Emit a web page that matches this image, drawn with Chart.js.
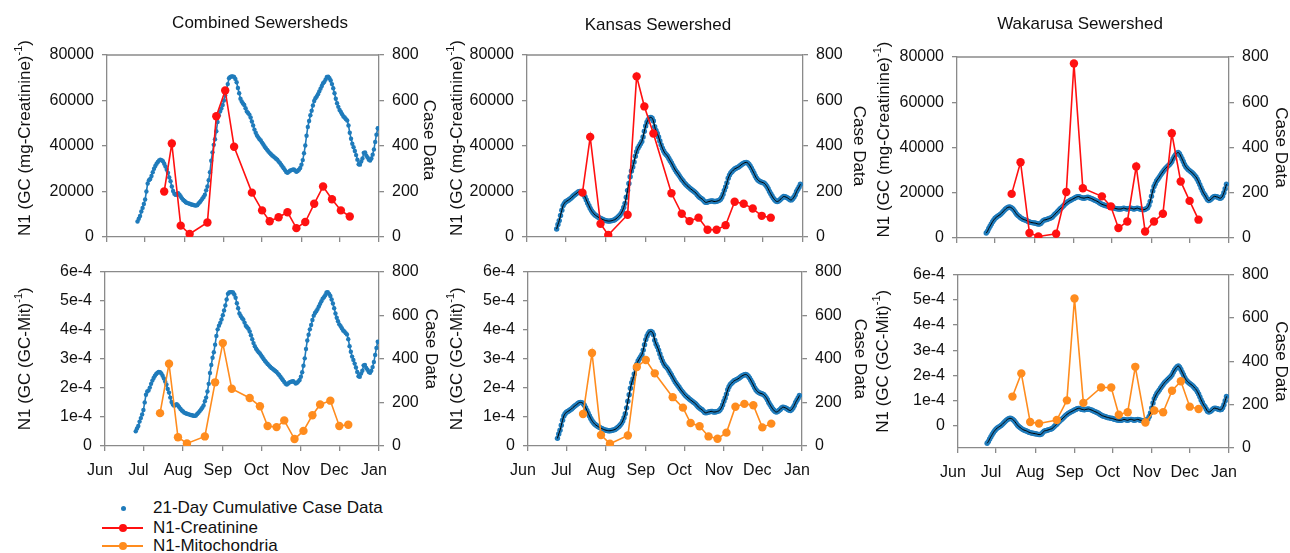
<!DOCTYPE html>
<html>
<head>
<meta charset="utf-8">
<script src="https://cdn.jsdelivr.net/npm/chart.js@4.4.1/dist/chart.umd.min.js"></script>
<style>
  body { margin: 0; background: #fff; width: 1290px; height: 553px; overflow: hidden; position: relative; font-family: "Liberation Sans", Arial, sans-serif; }
  canvas { position: absolute; }
  .lg { position: absolute; font-size: 17px; color: #111; line-height: 17px; white-space: nowrap; }
  .ln { position: absolute; height: 2px; }
  .dt { position: absolute; border-radius: 50%; }
</style>
</head>
<body>

<div class="dt" style="left:121px;top:506px;width:5px;height:5px;background:#1f7bbb"></div>
<div class="lg" style="left:153px;top:499px">21-Day Cumulative Case Data</div>
<div class="ln" style="left:102px;top:527px;width:41px;background:#ff1010"></div>
<div class="dt" style="left:119px;top:524px;width:8px;height:8px;background:#ff1010"></div>
<div class="lg" style="left:153px;top:519px">N1-Creatinine</div>
<div class="ln" style="left:102px;top:545px;width:41px;background:#ff8c1e"></div>
<div class="dt" style="left:119px;top:542px;width:8px;height:8px;background:#ff8c1e"></div>
<div class="lg" style="left:153px;top:537px">N1-Mitochondria</div>

<script>
// dias contados desde 1 de junho (0 = Jun 1, 214 = Jan 1)
const monthDays = [0, 30, 61, 92, 122, 153, 183, 214];
const monthLabels = ['Jun', 'Jul', 'Aug', 'Sep', 'Oct', 'Nov', 'Dec', 'Jan'];

// casos acumulados 21 dias (eixo direito), um valor por dia
const combinedStart = 24;
const combinedCases = [68,80,92,112,128,145,165,200,235,250, 255,268,285,300,312,322,330,336,340,338,
  333,322,310,296,282,262,245,222,202,190, 185,188,192,186,178,170,163,158,153,150,
  148,146,144,142,141,139,138,140,147,153, 160,168,176,186,205,222,250,285,335,372,
  405,430,465,505,535,552,565,580,600,622, 645,672,698,704,706,706,704,695,680,655,
  632,608,596,587,580,566,552,545,538,525, 508,490,472,458,446,438,430,424,415,407,
  398,390,383,376,370,364,358,354,349,344, 340,332,326,318,310,302,294,286,282,287,
  291,294,296,297,292,287,290,296,303,318, 338,368,402,445,484,510,535,555,578,598,
  610,618,628,640,652,664,676,682,692,704, 705,698,688,672,654,632,608,588,572,558,
  550,540,530,525,518,512,490,458,432,410, 395,378,360,340,320,318,332,345,370,372,
  358,350,340,336,345,362,385,418,450,478];

const kansasStart = 23;
const kansasCases = [35,55,72,95,118,138,148,155,158,162, 166,170,176,181,186,190,195,199,200,199,
  195,187,176,163,150,138,126,116,108,101, 96,92,88,85,82,79,76,74,72,71,
  70,70,71,72,74,76,80,85,90,96, 104,115,130,148,175,205,235,265,290,308,
  330,355,375,390,400,410,420,440,465,488, 505,516,524,526,522,510,485,468,455,440,
  422,405,390,378,368,362,355,345,335,326, 315,304,294,286,278,270,261,253,246,238,
  232,226,221,216,211,207,202,198,193,186, 179,174,170,166,160,154,152,154,156,157,
  159,158,156,156,157,159,161,166,175,188, 205,220,238,258,272,282,288,294,299,302,
  305,308,312,317,321,324,327,328,326,320, 312,302,291,280,268,258,251,246,243,241,
  239,236,230,222,212,200,190,180,171,164, 158,156,158,163,168,174,178,177,175,172,
  168,164,163,168,176,186,200,210,220,232];

const wakarusaStart = 23;
const wakarusaCases = [22,30,42,52,62,72,80,87,92,96, 100,104,109,115,121,127,132,135,137,136,
  133,128,121,113,105,99,95,90,86,83, 81,79,76,73,71,69,68,67,66,65,
  63,62,62,65,72,78,80,81,83,85, 87,89,93,99,105,110,116,122,128,133,
  138,144,150,155,159,163,166,169,172,175, 178,181,183,183,180,178,177,176,178,179,
  180,178,176,174,171,168,166,163,160,156, 152,149,147,145,143,141,140,138,137,136,
  134,132,130,129,128,128,128,130,132,131, 129,128,130,132,132,130,128,129,131,132,
  130,128,127,126,125,127,130,134,145,162, 185,208,228,240,252,260,268,277,285,293,
  301,307,313,319,324,330,338,350,360,368, 375,378,373,362,350,338,325,315,308,302,
  298,293,289,283,276,270,260,249,236,222, 210,198,190,180,170,166,168,172,178,183,
  184,182,181,178,176,178,186,200,218,238];

// N1-Creatinina (linha superior, eixo esquerdo)
const combinedCreatDays = [45,51,58,65,79,86,93,100,114,122,128,135,142,149,156,163,170,177,184,191];
const combinedCreat = [20000,41100,5000,1300,6400,53100,64400,39700,19500,11700,6900,8700,10900,3900,6600,14600,22200,16600,11700,9000];
const kansasCreatDays = [43,49,57,63,78,85,91,98,112,120,126,133,140,147,154,161,168,175,182,189];
const kansasCreat = [19500,44000,5800,900,9800,70600,57400,45500,19200,10200,7000,8500,3200,3200,5200,15500,14600,12500,9300,8500];
const wakarusaCreatDays = [43,50,57,64,78,86,92,99,114,121,127,134,141,148,155,162,169,176,183,190];
const wakarusaCreat = [19500,33500,2200,700,1900,20300,77100,22000,18400,14000,4400,7300,31600,2900,7300,10700,46300,25000,16400,8100];

// N1-Mitocondria (linha inferior, eixo esquerdo)
const combinedMitDays = [43,50,57,64,78,86,92,99,113,121,127,134,140,148,155,162,168,176,183,190];
const combinedMit = [1.13e-4,2.83e-4,0.30e-4,0.09e-4,0.33e-4,2.19e-4,3.54e-4,1.97e-4,1.65e-4,1.37e-4,0.69e-4,0.65e-4,0.88e-4,0.24e-4,0.52e-4,1.06e-4,1.43e-4,1.56e-4,0.69e-4,0.73e-4];
const kansasMitDays = [43,50,57,64,78,85,92,99,113,121,127,134,141,148,155,162,169,176,183,190];
const kansasMit = [1.10e-4,3.20e-4,0.38e-4,0.08e-4,0.36e-4,2.72e-4,2.96e-4,2.50e-4,1.68e-4,1.32e-4,0.79e-4,0.68e-4,0.33e-4,0.25e-4,0.46e-4,1.35e-4,1.45e-4,1.40e-4,0.64e-4,0.77e-4];
const wakarusaMitDays = [43,50,57,64,78,86,92,99,113,121,127,134,140,148,155,162,169,176,183,190];
const wakarusaMit = [1.16e-4,2.08e-4,0.15e-4,0.09e-4,0.23e-4,1.01e-4,5.05e-4,0.91e-4,1.52e-4,1.52e-4,0.44e-4,0.54e-4,2.34e-4,0.13e-4,0.61e-4,0.54e-4,1.39e-4,1.77e-4,0.76e-4,0.67e-4];

const creatTicks = [0, 20000, 40000, 60000, 80000];
const mitTicks = [0, 1e-4, 2e-4, 3e-4, 4e-4, 5e-4, 6e-4];
const caseTicks = [0, 200, 400, 600, 800];

const FONT = '"Liberation Sans", Arial, sans-serif';
const AXIS = '#8a8a8a';
const TEXT = '#111';
const BLUE = '#1f7bbb';
const RED = '#ff1010';
const ORANGE = '#ff8c1e';
const AL = 100, AR = 70, AB = 40;

function pontos(dias, valores) {
  return valores.map((v, i) => ({x: dias[i], y: v}));
}
function pontosCasos(inicio, valores) {
  return valores.map((v, i) => ({x: inicio + i, y: v}));
}

const decoracao = {
  id: 'deco',
  afterDraw(chart) {
    const o = chart.options.plugins.deco;
    const a = chart.chartArea;
    const ctx = chart.ctx;
    ctx.save();
    ctx.strokeStyle = AXIS;
    ctx.lineWidth = 1.3;
    ctx.beginPath();
    ctx.moveTo(a.left, a.top);
    ctx.lineTo(a.right, a.top);
    ctx.stroke();
    ctx.fillStyle = TEXT;
    const big = '17px ' + FONT, small = '11px ' + FONT;
    if (o.title) {
      ctx.font = big;
      ctx.textAlign = 'center';
      ctx.textBaseline = 'middle';
      ctx.fillText(o.title, a.left + o.titleDx, a.top - o.titleDy);
    }
    const cy = (a.top + a.bottom) / 2;
    // titulo esquerdo com expoente
    ctx.save();
    ctx.translate(a.left - o.leftDx, cy + o.leftDy);
    ctx.rotate(-Math.PI / 2);
    ctx.font = big;
    const w1 = ctx.measureText(o.leftTitle).width;
    const w3 = ctx.measureText(')').width;
    ctx.font = small;
    const w2 = ctx.measureText('-1').width;
    let x = -(w1 + w2 + w3) / 2;
    ctx.textAlign = 'left';
    ctx.textBaseline = 'middle';
    ctx.font = big;
    ctx.fillText(o.leftTitle, x, 0);
    x += w1;
    ctx.font = small;
    ctx.fillText('-1', x, -6);
    x += w2;
    ctx.font = big;
    ctx.fillText(')', x, 0);
    ctx.restore();
    // titulo direito
    ctx.save();
    ctx.translate(a.right + o.rightDx, cy + o.rightDy);
    ctx.rotate(Math.PI / 2);
    ctx.font = big;
    ctx.textAlign = 'center';
    ctx.textBaseline = 'middle';
    ctx.fillText('Case Data', 0, 0);
    ctx.restore();
    ctx.restore();
  }
};

function eixoBase() {
  return {
    grid: {drawOnChartArea: false, drawTicks: true, tickLength: 5, color: AXIS, lineWidth: 1.3},
    border: {color: AXIS, width: 1.3}
  };
}

function painel(p) {
  const cv = document.createElement('canvas');
  const w = p.R - p.L + AL + AR;
  const h = p.B - p.T + p.pT + AB;
  cv.width = w;
  cv.height = h;
  cv.style.left = (p.L - AL) + 'px';
  cv.style.top = (p.T - p.pT) + 'px';
  cv.style.width = w + 'px';
  cv.style.height = h + 'px';
  document.body.appendChild(cv);

  const datasets = [{
    data: pontos(p.markDays, p.markVals),
    borderColor: p.markColor,
    backgroundColor: p.markColor,
    borderWidth: 1.6,
    pointRadius: 4.2,
    pointBorderWidth: 0,
    yAxisID: 'y'
  }];
  const casos = pontosCasos(p.caseStart, p.cases);
  if (p.smooth) {
    datasets.push({
      data: casos,
      borderColor: '#000',
      borderWidth: 1,
      pointRadius: 0,
      tension: 0.4,
      yAxisID: 'y1'
    });
  }
  datasets.push({
    data: casos,
    borderColor: BLUE,
    backgroundColor: BLUE,
    borderWidth: 1.6,
    pointRadius: p.smooth ? 2.7 : 2.2,
    pointBorderWidth: 0,
    yAxisID: 'y1'
  });

  const tickFont = {family: FONT, size: 16};

  new Chart(cv, {
    type: 'line',
    data: {datasets: datasets},
    options: {
      responsive: false,
      animation: false,
      layout: {padding: {top: p.pT, left: 0, right: 0, bottom: 0}},
      plugins: {
        legend: {display: false},
        tooltip: {enabled: false},
        deco: p.deco
      },
      scales: {
        x: Object.assign(eixoBase(), {
          type: 'linear',
          min: 0,
          max: 214,
          afterBuildTicks: s => { s.ticks = monthDays.map(v => ({value: v})); },
          afterFit: s => { s.height = AB; },
          ticks: {
            autoSkip: false,
            maxRotation: 0,
            padding: 10,
            labelOffset: -5,
            font: {family: FONT, size: 16},
            color: TEXT,
            callback: v => p.bottom ? monthLabels[monthDays.indexOf(v)] : ''
          }
        }),
        y: Object.assign(eixoBase(), {
          position: 'left',
          min: p.yMin,
          max: p.yMax,
          afterBuildTicks: s => { s.ticks = p.yTicks.map(v => ({value: v})); },
          afterFit: s => { s.width = AL; },
          ticks: {padding: 8, font: tickFont, color: TEXT, callback: p.yLabel}
        }),
        y1: Object.assign(eixoBase(), {
          position: 'right',
          min: 0,
          max: 800,
          afterBuildTicks: s => { s.ticks = caseTicks.map(v => ({value: v})); },
          afterFit: s => { s.width = AR; },
          ticks: {padding: 8, font: tickFont, color: TEXT}
        })
      }
    },
    plugins: [decoracao]
  });
}

const rotuloCreat = v => String(Math.round(v));
const rotuloMit = v => Math.abs(v) < 1e-12 ? '0' : Math.round(v * 1e4) + 'e-4';

const creatTitle = 'N1 (GC (mg-Creatinine)';
const mitTitle = 'N1 (GC (GC-Mit)';

// coluna 1
painel({L: 107, R: 379, T: 55, B: 237, pT: 50, bottom: false, smooth: false,
  markDays: combinedCreatDays, markVals: combinedCreat, markColor: RED,
  caseStart: combinedStart, cases: combinedCases,
  yMin: 0, yMax: 80000, yTicks: creatTicks, yLabel: rotuloCreat,
  deco: {title: 'Combined Sewersheds', titleDx: 153, titleDy: 32, leftTitle: creatTitle, leftDx: 82, leftDy: -8, rightDx: 50, rightDy: -6}});
painel({L: 105, R: 379, T: 264, B: 446, pT: 10, bottom: true, smooth: false,
  markDays: combinedMitDays, markVals: combinedMit, markColor: ORANGE,
  caseStart: combinedStart, cases: combinedCases,
  yMin: 0, yMax: 6e-4, yTicks: mitTicks, yLabel: rotuloMit,
  deco: {leftTitle: mitTitle, leftDx: 80, leftDy: 0, rightDx: 52, rightDy: -10}});

// coluna 2
painel({L: 527, R: 803, T: 55, B: 237, pT: 50, bottom: false, smooth: true,
  markDays: kansasCreatDays, markVals: kansasCreat, markColor: RED,
  caseStart: kansasStart, cases: kansasCases,
  yMin: 0, yMax: 80000, yTicks: creatTicks, yLabel: rotuloCreat,
  deco: {title: 'Kansas Sewershed', titleDx: 131, titleDy: 30, leftTitle: creatTitle, leftDx: 70, leftDy: -8, rightDx: 56, rightDy: 0}});
painel({L: 528, R: 802, T: 264, B: 446, pT: 10, bottom: true, smooth: true,
  markDays: kansasMitDays, markVals: kansasMit, markColor: ORANGE,
  caseStart: kansasStart, cases: kansasCases,
  yMin: 0, yMax: 6e-4, yTicks: mitTicks, yLabel: rotuloMit,
  deco: {leftTitle: mitTitle, leftDx: 71, leftDy: 0, rightDx: 58, rightDy: 0}});

// coluna 3
painel({L: 957, R: 1229, T: 57, B: 238, pT: 50, bottom: false, smooth: true,
  markDays: wakarusaCreatDays, markVals: wakarusaCreat, markColor: RED,
  caseStart: wakarusaStart, cases: wakarusaCases,
  yMin: 0, yMax: 80000, yTicks: creatTicks, yLabel: rotuloCreat,
  deco: {title: 'Wakarusa Sewershed', titleDx: 123, titleDy: 33, leftTitle: creatTitle, leftDx: 73, leftDy: -8, rightDx: 52, rightDy: 0}});
painel({L: 958, R: 1229, T: 267, B: 448, pT: 10, bottom: true, smooth: true,
  markDays: wakarusaMitDays, markVals: wakarusaMit, markColor: ORANGE,
  caseStart: wakarusaStart, cases: wakarusaCases,
  yMin: -0.88e-4, yMax: 6e-4, yTicks: mitTicks, yLabel: rotuloMit,
  deco: {leftTitle: mitTitle, leftDx: 75, leftDy: 0, rightDx: 52, rightDy: 0}});
</script>
</body>
</html>
